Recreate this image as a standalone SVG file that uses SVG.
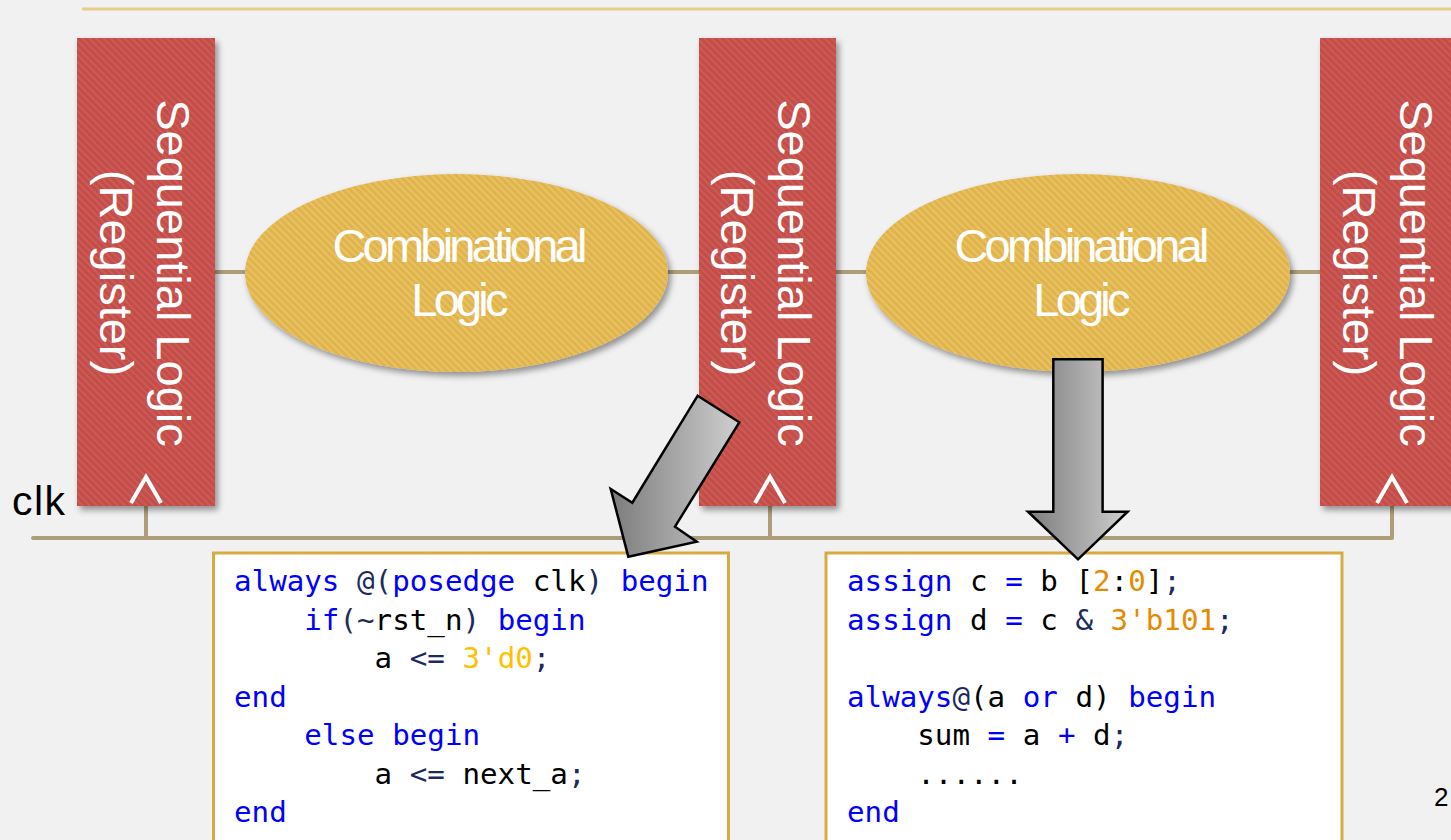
<svg xmlns="http://www.w3.org/2000/svg" width="1451" height="840" viewBox="0 0 1451 840">
  <defs>
    <!-- diagonal striped fills -->
    <pattern id="regStripe" patternUnits="userSpaceOnUse" width="5" height="5" patternTransform="rotate(-45)">
      <rect width="5" height="5" fill="#c24e49"/>
      <rect width="2" height="5" fill="#cd5a55"/>
    </pattern>
    <pattern id="combStripe" patternUnits="userSpaceOnUse" width="5" height="5" patternTransform="rotate(-45)">
      <rect width="5" height="5" fill="#dfb44f"/>
      <rect width="2" height="5" fill="#e9c260"/>
    </pattern>
    <linearGradient id="arrowGrad" x1="0" y1="0" x2="1" y2="0">
      <stop offset="0" stop-color="#7c7c7c"/>
      <stop offset="1" stop-color="#cfcfcf"/>
    </linearGradient>
    <filter id="shadow" x="-10%" y="-10%" width="125%" height="125%">
      <feDropShadow dx="3" dy="4" stdDeviation="3" flood-color="#000" flood-opacity="0.4"/>
    </filter>
    <style>
      .reg { fill: url(#regStripe); filter: url(#shadow); }
      .comb { fill: url(#combStripe); filter: url(#shadow); }
      .regText { font-family: "Liberation Sans", Arial, sans-serif; font-size: 47px; fill: #ffffff; text-anchor: middle; }
      .combText { font-family: "Liberation Sans", Arial, sans-serif; font-size: 47px; fill: #ffffff; text-anchor: middle; letter-spacing: -3.8px; }
      .clkMark { fill: none; stroke: #ffffff; stroke-width: 4; stroke-linejoin: miter; }
      .wire { fill: none; stroke: #ad9d78; stroke-width: 4; stroke-linecap: round; stroke-linejoin: round; }
      .codeBox { fill: #ffffff; stroke: #d7ab42; stroke-width: 3; }
      .code { font-family: "DejaVu Sans Mono", "Liberation Mono", monospace; font-size: 29.2px; fill: #000000; white-space: pre; }
      .k { fill: #0000ff; }
      .o { fill: #1b2a5c; }
      .n1 { fill: #ffc000; }
      .n2 { fill: #e68a00; }
      .bigArrow { fill: url(#arrowGrad); stroke: #000000; stroke-width: 2.5; stroke-linejoin: miter; }
    </style>
  </defs>

  <!-- page background -->
  <rect width="1451" height="840" fill="#f1f1f1"/>
  <line x1="82" y1="9" x2="1451" y2="9" stroke="#e9cd8b" stroke-width="3"/>

  <!-- wires: data path and clock -->
  <g id="connectors">
    <line class="wire" x1="210" y1="272" x2="250" y2="272"/>
    <line class="wire" x1="663" y1="272" x2="703" y2="272"/>
    <line class="wire" x1="831" y1="272" x2="871" y2="272"/>
    <line class="wire" x1="1285" y1="272" x2="1325" y2="272"/>
    <polyline class="wire" points="33,538 1392,538 1392,500"/>
    <line class="wire" x1="146" y1="538" x2="146" y2="500"/>
    <line class="wire" x1="770" y1="538" x2="770" y2="500"/>
  </g>

  <text x="12" y="515" font-family="Liberation Sans, Arial, sans-serif" font-size="41" letter-spacing="1.5" fill="#000000">clk</text>

  <!-- register stages -->
  <g id="reg1">
    <rect class="reg" x="77" y="38" width="138" height="468"/>
    <g transform="translate(157,273) rotate(90)">
      <text class="regText" x="0" y="0">Sequential Logic</text>
      <text class="regText" x="0" y="57">(Register)</text>
    </g>
    <polyline class="clkMark" points="131,503 146,477 161,503"/>
  </g>
  <g id="reg2">
    <rect class="reg" x="699" y="38" width="137" height="468"/>
    <g transform="translate(778,273) rotate(90)">
      <text class="regText" x="0" y="0">Sequential Logic</text>
      <text class="regText" x="0" y="57">(Register)</text>
    </g>
    <polyline class="clkMark" points="755,503 770,477 785,503"/>
  </g>
  <g id="reg3">
    <rect class="reg" x="1320" y="38" width="140" height="468"/>
    <g transform="translate(1400,273) rotate(90)">
      <text class="regText" x="0" y="0">Sequential Logic</text>
      <text class="regText" x="0" y="57">(Register)</text>
    </g>
    <polyline class="clkMark" points="1377,503 1392,477 1407,503"/>
  </g>

  <!-- combinational clouds -->
  <g id="comb1">
    <ellipse class="comb" cx="456.5" cy="273" rx="211.5" ry="99"/>
    <text class="combText" x="458" y="262">Combinational</text>
    <text class="combText" x="458" y="316">Logic</text>
  </g>
  <g id="comb2">
    <ellipse class="comb" cx="1078" cy="273" rx="212" ry="99"/>
    <text class="combText" x="1080" y="262">Combinational</text>
    <text class="combText" x="1080" y="316">Logic</text>
  </g>

  <!-- sequential code sample -->
  <g id="codeSeq">
    <rect class="codeBox" x="213.5" y="553" width="515" height="300"/>
    <text class="code" x="234" y="591"><tspan class="k">always</tspan> <tspan class="o">@(</tspan><tspan class="k">posedge</tspan> clk<tspan class="o">)</tspan> <tspan class="k">begin</tspan></text>
    <text class="code" x="304.3" y="629.5"><tspan class="k">if</tspan><tspan class="o">(~</tspan>rst_n<tspan class="o">)</tspan> <tspan class="k">begin</tspan></text>
    <text class="code" x="374.6" y="668">a <tspan class="o">&lt;=</tspan> <tspan class="n1">3'd0</tspan><tspan class="o">;</tspan></text>
    <text class="code" x="234" y="706.5"><tspan class="k">end</tspan></text>
    <text class="code" x="304.3" y="745"><tspan class="k">else</tspan> <tspan class="k">begin</tspan></text>
    <text class="code" x="374.6" y="783.5">a <tspan class="o">&lt;=</tspan> next_a<tspan class="o">;</tspan></text>
    <text class="code" x="234" y="822"><tspan class="k">end</tspan></text>
  </g>

  <!-- combinational code sample -->
  <g id="codeComb">
    <rect class="codeBox" x="826" y="553" width="516" height="300"/>
    <text class="code" x="847" y="591"><tspan class="k">assign</tspan> c <tspan class="k">=</tspan> b [<tspan class="n2">2</tspan>:<tspan class="n2">0</tspan>]<tspan class="o">;</tspan></text>
    <text class="code" x="847" y="629.5"><tspan class="k">assign</tspan> d <tspan class="k">=</tspan> c <tspan class="o">&amp;</tspan> <tspan class="n2">3'b101</tspan><tspan class="o">;</tspan></text>
    <text class="code" x="847" y="706.5"><tspan class="k">always</tspan><tspan class="o">@</tspan>(a <tspan class="k">or</tspan> d) <tspan class="k">begin</tspan></text>
    <text class="code" x="917.3" y="745">sum <tspan class="k">=</tspan> a <tspan class="k">+</tspan> d<tspan class="o">;</tspan></text>
    <text class="code" x="917.3" y="783.5">......</text>
    <text class="code" x="847" y="822"><tspan class="k">end</tspan></text>
  </g>

  <!-- block arrows pointing into the code -->
  <g id="arrowSeq">
    <polygon class="bigArrow" points="697.7,395.7 739.3,422.3 675,526.7 696.7,541.7 628.3,556.7 610.7,489 632.3,502.7"/>
  </g>
  <g id="arrowComb">
    <polygon class="bigArrow" points="1053.3,359.3 1102.6,359.3 1102.6,511.7 1127.6,511.7 1078,559.3 1028,511.7 1053.3,511.7"/>
  </g>

  <text x="1434" y="806" font-family="Liberation Sans, Arial, sans-serif" font-size="26" fill="#000000">2</text>
</svg>
